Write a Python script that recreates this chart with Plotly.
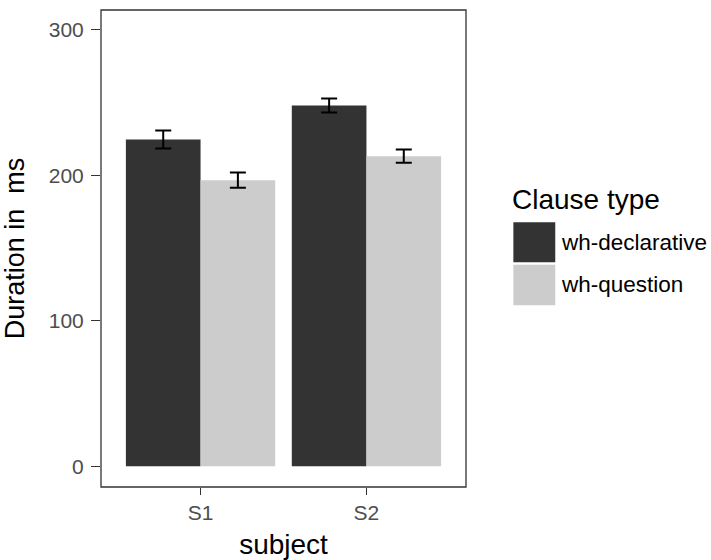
import plotly.graph_objects as go

# ---- data ----
subjects = ["S1", "S2"]
series_names = ["wh-declarative", "wh-question"]
declarative = [224.6, 248.0]
declarative_se = [6.2, 4.8]
question = [196.7, 213.2]
question_se = [5.3, 4.6]
y_ticks = [0, 100, 200, 300]
legend_title = "Clause type"
x_title = "subject"
y_title = "Duration in  ms"

# ---- styling ----
W, H = 711, 560
L, R, T, B = 100.5, 466.5, 10, 487.5  # panel edges in px
FONT = "Liberation Sans, Arial, sans-serif"
DARK, LIGHT = "#333333", "#CCCCCC"
colors = [DARK, LIGHT]


def px_x(x):
    return (x - L) / (R - L)


def px_y(y):
    return (B - y) / (B - T)


fig = go.Figure()
for name, vals, errs, col in [
    (series_names[0], declarative, declarative_se, DARK),
    (series_names[1], question, question_se, LIGHT),
]:
    fig.add_bar(
        x=subjects, y=vals, name=name,
        marker=dict(color=col, line=dict(width=0)),
        error_y=dict(type="data", array=errs, color="black", thickness=2, width=8),
        showlegend=False,
    )

# panel border
fig.add_shape(type="rect", xref="paper", yref="paper", x0=0, x1=1, y0=0, y1=1,
              line=dict(color="#333333", width=1.3), layer="above")

# manual legend (large square keys as in the reference)
key_x0, key_x1 = 514, 556
key_rows = [(222.5, 262.5), (265, 305.5)]
for (y0, y1), col, name in zip(key_rows, colors, series_names):
    fig.add_shape(type="rect", xref="paper", yref="paper",
                  x0=px_x(key_x0), x1=px_x(key_x1), y0=px_y(y1), y1=px_y(y0),
                  fillcolor=col, line=dict(width=0))
    fig.add_annotation(xref="paper", yref="paper", x=px_x(560), y=px_y((y0 + y1) / 2),
                       text=name, showarrow=False, xanchor="left", yanchor="middle",
                       font=dict(family=FONT, size=22.5, color="black"))
fig.add_annotation(xref="paper", yref="paper", x=px_x(511), y=px_y(200),
                   text=legend_title, showarrow=False, xanchor="left", yanchor="middle",
                   font=dict(family=FONT, size=28, color="black"))

fig.update_layout(
    width=W, height=H,
    margin=dict(l=L, r=W - R, t=T, b=H - B, pad=0),
    paper_bgcolor="white", plot_bgcolor="white",
    barmode="group", bargap=0.1, bargroupgap=0,
    font=dict(family=FONT),
    showlegend=False,
)
fig.update_xaxes(
    type="category", range=[-0.6, 1.6], showgrid=False, zeroline=False, showline=False,
    ticks="outside", ticklen=7, tickwidth=1.3, tickcolor="#333333",
    tickfont=dict(family=FONT, size=21, color="#4D4D4D"),
    title=dict(text=x_title, font=dict(family=FONT, size=28, color="black"), standoff=13),
    automargin=False,
)
fig.update_yaxes(
    range=[-14.3, 313.7], tickvals=y_ticks, showgrid=False, zeroline=False, showline=False,
    ticks="outside", ticklen=9, tickwidth=1.3, tickcolor="#333333",
    tickfont=dict(family=FONT, size=21, color="#4D4D4D"), ticklabelstandoff=3,
    title=dict(text=y_title, font=dict(family=FONT, size=27, color="black"), standoff=20),
    automargin=False,
)

fig.write_html("out.html", config={"displayModeBar": False},
               post_script="document.body.style.margin='0';")
